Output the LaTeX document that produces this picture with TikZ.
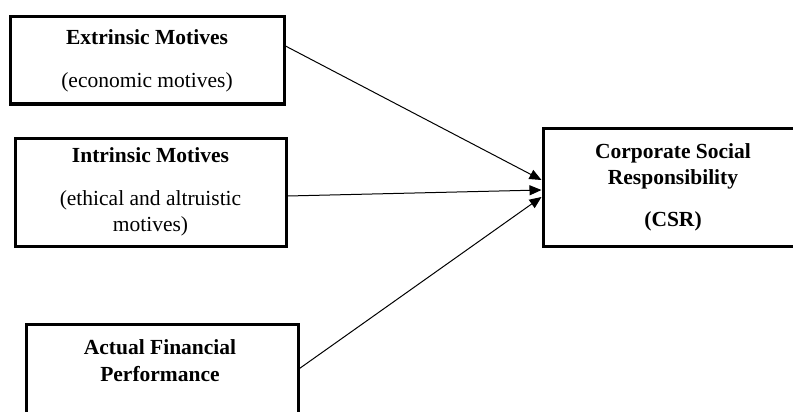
\documentclass[tikz,border=0pt]{standalone}
\usepackage{fontspec}
\setmainfont{Liberation Serif}
\usetikzlibrary{arrows.meta}
\begin{document}
\begin{tikzpicture}[x=1pt,y=-1pt,
  box/.style={draw, line width=3pt, inner sep=0pt, align=center,
    font=\fontsize{21.5}{26}\selectfont},
  conn/.style={line width=1pt, -{Triangle[length=12pt,width=10pt]}}]
\useasboundingbox (0,0) rectangle (793,412);
\clip (0,0) rectangle (793,412);
\node[box, minimum width=274pt, minimum height=87pt] (ext) at (147,60.5)
  {\textbf{Extrinsic Motives}\\[17pt](economic motives)};
\node[box, minimum width=271pt, minimum height=108pt] (int) at (150.5,192)
  {\textbf{Intrinsic Motives}\\[17pt](ethical and altruistic\\motives)};
\node[box, minimum width=272pt, minimum height=130pt, anchor=north west] (fin) at (24.5,322.5) {};
\node[align=center, inner sep=0pt, font=\fontsize{21.5}{27}\selectfont\bfseries] (fintxt) at (160,361)
  {Actual Financial\\Performance};
\node[box, minimum width=260pt, minimum height=118pt] (csr) at (673,187)
  {\textbf{Corporate Social}\\\textbf{Responsibility}\\[16pt]\textbf{(CSR)}};
\draw[conn] ([yshift=14.5pt]ext.east) -- ([yshift=7pt]csr.west);
\draw[conn] ([yshift=-4pt]int.east) -- ([yshift=-3pt]csr.west);
\draw[conn] ([yshift=-46pt]fin.north east) -- ([yshift=-10pt]csr.west);
\end{tikzpicture}
\end{document}
